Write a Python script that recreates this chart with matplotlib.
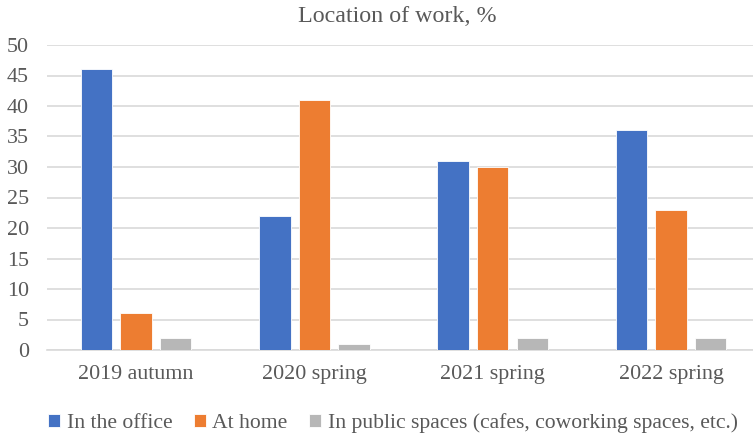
import matplotlib
matplotlib.use("Agg")
import matplotlib.pyplot as plt
import numpy as np

categories = ["2019 autumn", "2020 spring", "2021 spring", "2022 spring"]
series_names = ["In the office", "At home", "In public spaces (cafes, coworking spaces, etc.)"]
office = [46, 22, 31, 36]
home = [6, 41, 30, 23]
public = [2, 1, 2, 2]
colors = ["#4472C4", "#ED7D31", "#B7B7B7"]
y_ticks = [0, 5, 10, 15, 20, 25, 30, 35, 40, 45, 50]

text_color = "#595959"
plt.rcParams["font.family"] = ["Liberation Serif", "DejaVu Serif"]

fig = plt.figure(figsize=(7.53, 4.37), dpi=100)
ax = fig.add_axes([47 / 753, 1 - 350 / 437, 1 - 47 / 753, 305 / 437])

x = np.arange(len(categories))
step = 0.222
width = 0.176
for i, (vals, name, c) in enumerate(zip([office, home, public], series_names, colors)):
    ax.bar(x + (i - 1) * step, vals, width=width, color=c, label=name,
           edgecolor="white", linewidth=0.6, zorder=3)

ax.set_ylim(0, 50)
ax.set_xlim(-0.5, (753 - 47) / 178.3 - 0.5)
ax.set_yticks(y_ticks)
ax.set_xticks(x)
ax.set_xticklabels(categories)
ax.yaxis.grid(True, color="#D9D9D9", linewidth=1.2, zorder=0)
ax.set_axisbelow(True)
for s in ["top", "right", "left"]:
    ax.spines[s].set_visible(False)
ax.spines["bottom"].set_color("#D9D9D9")
ax.spines["bottom"].set_linewidth(1.2)
ax.tick_params(axis="both", length=0, labelsize=15.8, colors=text_color)
ax.tick_params(axis="x", pad=11)
ax.tick_params(axis="y", pad=13)

fig.text(397 / 753, 1 - 16 / 437, "Location of work, %", ha="center", va="center",
         fontsize=17.3, color=text_color)

leg = fig.legend(loc="center", bbox_to_anchor=(393 / 753, 1 - 423 / 437), ncol=3,
                 frameon=False, fontsize=15.6, handlelength=0.55, handleheight=0.55,
                 handletextpad=0.3, columnspacing=1.0)
for t in leg.get_texts():
    t.set_color(text_color)

fig.savefig("out.png", dpi=100)
